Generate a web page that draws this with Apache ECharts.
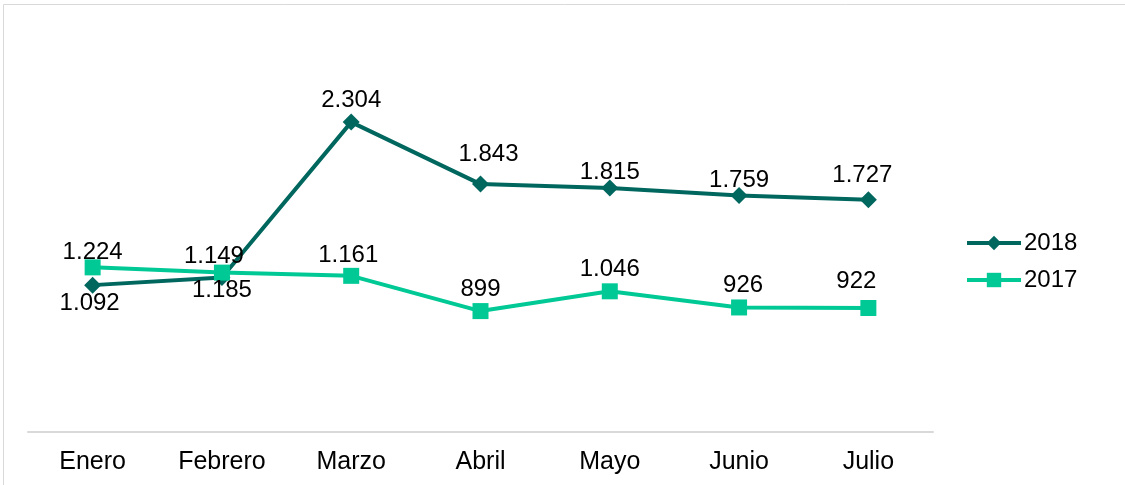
<!DOCTYPE html>
<html>
<head>
<meta charset="utf-8">
<script src="https://cdn.jsdelivr.net/npm/echarts@6/dist/echarts.min.js"></script>
<style>
  html, body { margin: 0; padding: 0; background: #fff; }
  #chart { width: 1125px; height: 485px; }
</style>
</head>
<body>
<div id="chart"></div>
<script>
const months = ['Enero', 'Febrero', 'Marzo', 'Abril', 'Mayo', 'Junio', 'Julio']
const values2018 = [1092, 1149, 2304, 1843, 1815, 1759, 1727]
const values2017 = [1224, 1185, 1161, 899, 1046, 926, 922]
// etiquetas que van debajo del punto
const below2018 = [0]
const below2017 = [1]
// pequeños ajustes de posición de etiquetas (como en el gráfico original)
const nudge2018 = [[-3, -2], [-8, 0], [0, 0], [8, -8], [0, 6], [0, 6], [-6, -3]]
const nudge2017 = [[0, 7], [0, -2], [-3, 2], [0, 0], [0, 0], [4, 0], [-12, -5]]

const font = 'Liberation Sans, Arial, sans-serif'
const dark = '#00675F'
const light = '#00C996'

// separador de miles con punto
const fmt = v => String(v).replace(/\B(?=(\d{3})+(?!\d))/g, '.')

const toData = (vals, below, nudge) => vals.map((v, i) => ({
  value: v,
  label: below.includes(i)
    ? { position: 'bottom', distance: 0, offset: nudge[i] }
    : { offset: nudge[i] }
}))

const chart = echarts.init(document.getElementById('chart'))
chart.setOption({
  animation: false,
  textStyle: { fontFamily: font },
  graphic: [{
    type: 'rect',
    shape: { x: 3.5, y: 4.5, width: 1130, height: 490 },
    style: { fill: 'none', stroke: '#d9d9d9', lineWidth: 1 },
    silent: true
  }],
  grid: { left: 28, right: 192, top: 28.5, bottom: 53 },
  legend: {
    orient: 'vertical',
    left: 960,
    top: 226,
    itemWidth: 54,
    itemHeight: 18,
    itemGap: 13,
    lineStyle: { width: 4 },
    textStyle: { fontSize: 24, color: '#000', fontFamily: font, padding: [0, 0, 0, -2] },
    data: ['2018', '2017']
  },
  xAxis: {
    type: 'category',
    data: months,
    axisLine: { lineStyle: { color: '#d9d9d9', width: 2 } },
    axisTick: { show: false },
    axisLabel: { color: '#000', fontSize: 25, margin: 18, fontFamily: font }
  },
  yAxis: {
    type: 'value',
    min: 0,
    max: 3000,
    show: false,
    splitLine: { show: false }
  },
  series: [{
    name: '2018',
    type: 'line',
    data: toData(values2018, below2018, nudge2018),
    symbol: 'diamond',
    symbolSize: 17,
    lineStyle: { color: dark, width: 4 },
    itemStyle: { color: dark },
    label: {
      show: true,
      position: 'top',
      distance: 1,
      fontSize: 24,
      color: '#000',
      fontFamily: font,
      formatter: p => fmt(p.value)
    },
    z: 3
  }, {
    name: '2017',
    type: 'line',
    data: toData(values2017, below2017, nudge2017),
    symbol: 'rect',
    symbolSize: 16,
    lineStyle: { color: light, width: 4 },
    itemStyle: { color: light },
    label: {
      show: true,
      position: 'top',
      distance: 2,
      fontSize: 24,
      color: '#000',
      fontFamily: font,
      formatter: p => fmt(p.value)
    },
    z: 4
  }]
})
</script>
</body>
</html>
